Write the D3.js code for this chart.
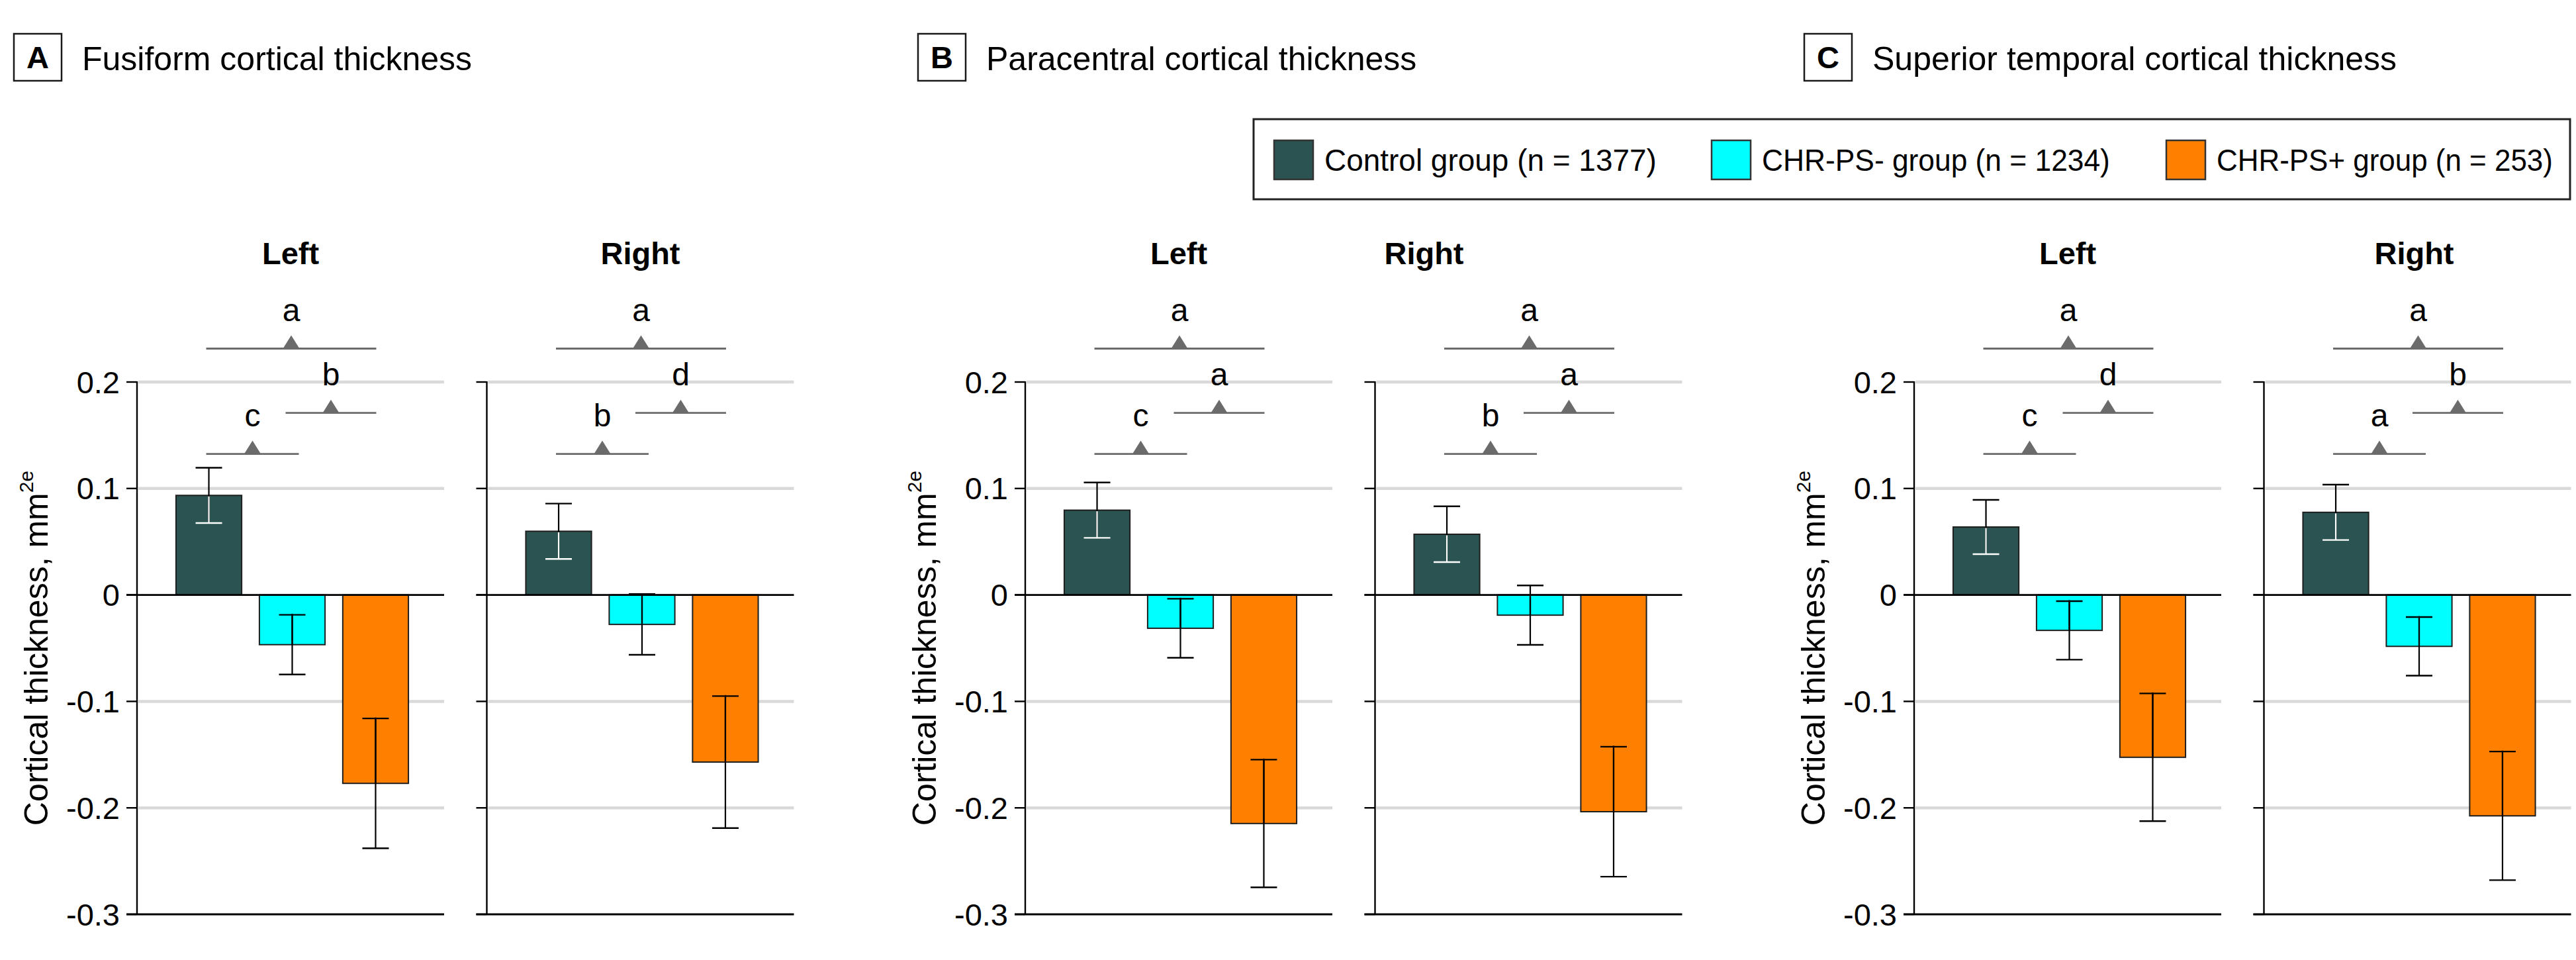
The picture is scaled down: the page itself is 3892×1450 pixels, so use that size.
<!DOCTYPE html>
<html><head><meta charset="utf-8">
<script src="https://cdn.jsdelivr.net/npm/d3@7"></script>
<style>
body{margin:0;background:#fff}
svg{display:block}
text{font-family:"Liberation Sans",Arial,sans-serif;fill:#000}
</style>
</head><body>
<script>
// ---------------- data ----------------
const panelLetters = ["A", "B", "C"];
const regionTitles = ["Fusiform cortical thickness", "Paracentral cortical thickness", "Superior temporal cortical thickness"];
const hemispheres = ["Left", "Right"];
const groups = ["Control group (n = 1377)", "CHR-PS- group (n = 1234)", "CHR-PS+ group (n = 253)"];
const groupKeys = ["control", "chrNeg", "chrPos"];

// means [hemisphere][group]
const fusiformMeans = [[0.0935, -0.0467, -0.1770], [0.0598, -0.0277, -0.1570]];
const paracentralMeans = [[0.0796, -0.0313, -0.2147], [0.0570, -0.0190, -0.2036]];
const superiorTemporalMeans = [[0.0638, -0.0333, -0.1525], [0.0776, -0.0483, -0.2075]];

// error half-widths [hemisphere][group]
const fusiformErrors = [[0.0260, 0.0280, 0.0610], [0.0260, 0.0285, 0.0620]];
const paracentralErrors = [[0.0260, 0.0277, 0.0600], [0.0262, 0.0279, 0.0610]];
const superiorTemporalErrors = [[0.0255, 0.0275, 0.0600], [0.0260, 0.0275, 0.0604]];

// significance letters [hemisphere] -> [control vs CHR-PS+, control vs CHR-PS-, CHR-PS- vs CHR-PS+]
const fusiformSig = [["a", "c", "b"], ["a", "b", "d"]];
const paracentralSig = [["a", "c", "a"], ["a", "b", "a"]];
const superiorTemporalSig = [["a", "c", "d"], ["a", "a", "b"]];

const yTicks = [0.2, 0.1, 0, -0.1, -0.2, -0.3];
const yTickLabels = ["0.2", "0.1", "0", "-0.1", "-0.2", "-0.3"];
const gridValues = [0.2, 0.1, -0.1, -0.2];

const allMeans = [fusiformMeans, paracentralMeans, superiorTemporalMeans];
const allErrors = [fusiformErrors, paracentralErrors, superiorTemporalErrors];
const allSig = [fusiformSig, paracentralSig, superiorTemporalSig];

// ---------------- style / layout ----------------
const W = 3892, H = 1450;
const colors = ["#2b5352", "#00ffff", "#ff8000"];
const insideErrColor = ["#ffffff", "#000000", "#000000"];
const bracketColor = "#6b6b6b";
const gridColor = "#d9d9d9";
const panelAxisX = [207, 1549, 2892];
const titleBoxX = [21, 1387, 2726];
const hemiTitleShift = [[0, 0], [0, -158], [0, -5]];
const subOffset = 528.5;
const plotW = 464;
const legendSwatchX = [1925, 2586, 3273];
const legendTextW = [502, 526, 508];

const svg = d3.select("body").append("svg").attr("width", W).attr("height", H);
const y = d3.scaleLinear().domain([-0.3, 0.2]).range([1381, 577]);

// ---------------- titles ----------------
panelLetters.forEach((L, p) => {
  const bx = titleBoxX[p];
  svg.append("rect").attr("x", bx).attr("y", 51).attr("width", 72).attr("height", 71)
    .attr("fill", "#fff").attr("stroke", "#1a1a1a").attr("stroke-width", 2.5);
  svg.append("text").attr("x", bx + 36).attr("y", 103).attr("text-anchor", "middle")
    .attr("font-size", 47).attr("font-weight", "bold").text(L);
  svg.append("text").attr("x", bx + 103).attr("y", 106).attr("font-size", 50).text(regionTitles[p]);
});

// ---------------- legend ----------------
svg.append("rect").attr("x", 1894).attr("y", 180).attr("width", 1989).attr("height", 121)
  .attr("fill", "#fff").attr("stroke", "#222").attr("stroke-width", 3);
groups.forEach((g, i) => {
  const lx = legendSwatchX[i];
  svg.append("rect").attr("x", lx).attr("y", 212).attr("width", 59).attr("height", 59)
    .attr("fill", colors[i]).attr("stroke", "#333").attr("stroke-width", 2.5);
  const tg = svg.append("g").attr("transform", `translate(${lx + 76},258)`);
  const t = tg.append("text").attr("x", 0).attr("y", 0).attr("font-size", 47).text(g);
  const w = t.node().getComputedTextLength();
  if (w > legendTextW[i]) t.attr("transform", `scale(${legendTextW[i] / w},1)`);
});

// ---------------- panels ----------------
panelLetters.forEach((L, p) => {
  hemispheres.forEach((hemi, h) => {
    const x0 = panelAxisX[p] + h * subOffset;
    const g = svg.append("g");
    const x = d3.scaleBand().domain(groupKeys).range([x0 + 2, x0 + 467])
      .paddingInner(0.2125).paddingOuter(0.452);
    const means = allMeans[p][h];
    const errs = allErrors[p][h];
    const sig = allSig[p][h];

    // hemisphere title
    g.append("text").attr("x", x0 + plotW / 2 + hemiTitleShift[p][h]).attr("y", 399).attr("text-anchor", "middle")
      .attr("font-size", 47).attr("font-weight", "bold").text(hemi);

    // gridlines
    g.selectAll(".grid").data(gridValues).enter().append("line")
      .attr("x1", x0 + 2).attr("x2", x0 + plotW).attr("y1", d => y(d)).attr("y2", d => y(d))
      .attr("stroke", gridColor).attr("stroke-width", 4.5);

    // bars
    g.selectAll(".bar").data(groupKeys).enter().append("rect")
      .attr("x", d => x(d)).attr("width", x.bandwidth())
      .attr("y", (d, i) => Math.min(y(means[i]), y(0)))
      .attr("height", (d, i) => Math.abs(y(means[i]) - y(0)))
      .attr("fill", (d, i) => colors[i]).attr("stroke", "#1e1e1e").attr("stroke-width", 2);

    // zero line & bottom line
    [0, -0.3].forEach(v => {
      g.append("line").attr("x1", x0 - 16).attr("x2", x0 + plotW).attr("y1", y(v)).attr("y2", y(v))
        .attr("stroke", "#000").attr("stroke-width", 2.8);
    });

    // error bars
    groupKeys.forEach((k, i) => {
      const cx = x(k) + x.bandwidth() / 2;
      const lo = means[i] - errs[i], hi = means[i] + errs[i];
      const bLo = Math.min(0, means[i]), bHi = Math.max(0, means[i]);
      g.append("line").attr("x1", cx).attr("x2", cx).attr("y1", y(lo)).attr("y2", y(hi))
        .attr("stroke", "#000").attr("stroke-width", 2.2);
      const sLo = Math.max(lo, bLo), sHi = Math.min(hi, bHi);
      if (sHi > sLo) {
        g.append("line").attr("x1", cx).attr("x2", cx).attr("y1", y(sLo)).attr("y2", y(sHi) + (means[i] > 0 ? 1.5 : -1.5))
          .attr("stroke", insideErrColor[i]).attr("stroke-width", 2.2);
      }
      [lo, hi].forEach(v => {
        const inside = v >= bLo && v <= bHi;
        g.append("line").attr("x1", cx - 20).attr("x2", cx + 20).attr("y1", y(v)).attr("y2", y(v))
          .attr("stroke", inside ? insideErrColor[i] : "#000").attr("stroke-width", 2.4);
      });
    });

    // y axis line and ticks
    g.append("line").attr("x1", x0).attr("x2", x0).attr("y1", y(0.2) - 1).attr("y2", y(-0.3) + 1)
      .attr("stroke", "#000").attr("stroke-width", 2.4);
    g.selectAll(".tick").data(yTicks).enter().append("line")
      .attr("x1", x0 - 16).attr("x2", x0).attr("y1", d => y(d)).attr("y2", d => y(d))
      .attr("stroke", "#000").attr("stroke-width", 2.4);

    if (h === 0) {
      g.selectAll(".tl").data(yTicks).enter().append("text")
        .attr("x", x0 - 26).attr("y", d => y(d)).attr("text-anchor", "end")
        .attr("dominant-baseline", "central").attr("font-size", 47)
        .text((d, i) => yTickLabels[i]);
      const yl = g.append("text")
        .attr("transform", `translate(${x0 - 135},${(y(0.2) + y(-0.3)) / 2}) rotate(-90)`)
        .attr("text-anchor", "middle").attr("font-size", 50);
      yl.append("tspan").text("Cortical thickness, mm");
      yl.append("tspan").attr("font-size", 30).attr("dy", -22).text("2e");
    }

    // significance brackets
    const c = groupKeys.map(k => x(k) + x.bandwidth() / 2);
    const brackets = [
      { x1: c[0] - 4, x2: c[2] + 1, v: 0.2314, label: sig[0] },
      { x1: c[0] - 4, x2: c[1] + 10, v: 0.1325, label: sig[1] },
      { x1: c[1] - 10, x2: c[2] + 1, v: 0.1710, label: sig[2] }
    ];
    brackets.forEach(b => {
      const ly = y(b.v), mx = (b.x1 + b.x2) / 2;
      g.append("line").attr("x1", b.x1).attr("x2", b.x2).attr("y1", ly).attr("y2", ly)
        .attr("stroke", bracketColor).attr("stroke-width", 2.8);
      g.append("path").attr("d", `M${mx - 12.5},${ly} L${mx},${ly - 20} L${mx + 12.5},${ly} Z`)
        .attr("fill", bracketColor);
      g.append("text").attr("x", mx).attr("y", ly - 42).attr("text-anchor", "middle")
        .attr("font-size", 48).text(b.label);
    });
  });
});
</script>
</body></html>
